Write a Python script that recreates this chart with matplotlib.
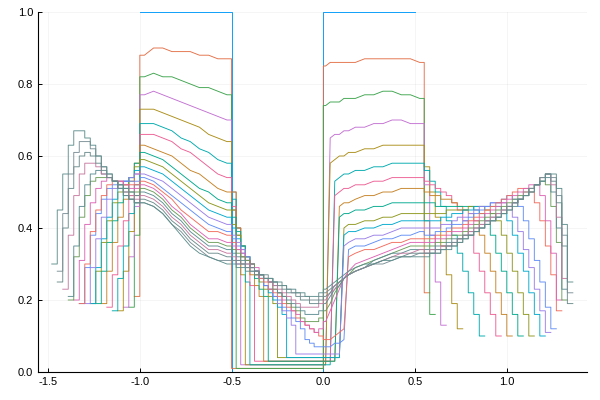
import numpy as np
import matplotlib.pyplot as plt

plt.rcParams['font.family'] = ['Liberation Sans', 'DejaVu Sans']
plt.rcParams['axes.unicode_minus'] = False

# Zellgrenzen des Gitters (fein an den Raendern, grob im Inneren)
edges = np.round(np.concatenate([
    np.arange(-1.48, -0.995, 0.03),
    np.arange(-0.95, -0.495, 0.05),
    np.arange(-0.475, 0.1501, 0.025),
    np.arange(0.20, 0.5501, 0.05),
    np.arange(0.58, 1.3601, 0.03),
]), 3)
n_left = 16
# grobe Zellen werden glatt gezeichnet, feine als Treppe
smooth = [False] * 16 + [True] * 10 + [False] * 20 + [True] * 14 + [False] * 27

# Anfangszustand
init_edges = [-1.0, -0.5, 0.0, 0.5]
init_vals = [1.0, 0.0, 1.0]

# Zellwerte (in 1/100) je Zeitschritt
left_tail = [
    [21],
    [18, 38],
    [18, 32, 46],
    [17, 28, 39, 49],
    [17, 26, 35, 44, 52],
    [18, 27, 35, 42, 49, 55],
    [19, 28, 36, 43, 48, 53, 58],
    [19, 28, 36, 42, 47, 51, 54, 58],
    [19, 28, 36, 42, 47, 50, 52, 54, 57],
    [19, 29, 37, 43, 48, 51, 53, 54, 56],
    [19, 29, 37, 43, 48, 51, 52, 53, 54, 55],
    [19, 29, 38, 44, 48, 51, 52, 53, 53, 53, 53],
    [19, 30, 39, 45, 49, 52, 53, 53, 52, 52, 52],
    [20, 31, 41, 47, 51, 53, 54, 53, 53, 52, 51, 51],
    [20, 32, 43, 49, 53, 54, 54, 54, 53, 52, 51, 50, 50],
    [21, 35, 46, 52, 55, 56, 55, 54, 53, 52, 51, 50, 49],
    [23, 38, 49, 55, 58, 58, 57, 55, 54, 53, 51, 50, 49, 48],
    [25, 40, 51, 57, 60, 61, 60, 58, 56, 54, 53, 51, 50, 48, 47],
    [28, 44, 55, 61, 64, 64, 62, 60, 57, 55, 53, 51, 49, 48, 47],
    [30, 45, 55, 63, 67, 67, 65, 63, 60, 57, 55, 53, 51, 49, 48, 47],
]

left_pulse = [
    [88, 90, 90, 89, 89, 89, 88, 88, 87, 87],
    [82, 83, 82, 82, 81, 80, 79, 79, 78, 77],
    [77, 78, 77, 76, 75, 74, 73, 72, 71, 70],
    [73, 73, 72, 71, 70, 69, 68, 66, 65, 64],
    [69, 69, 68, 67, 65, 64, 62, 61, 59, 58],
    [66, 66, 65, 64, 62, 61, 59, 57, 55, 54],
    [63, 62, 61, 60, 58, 56, 55, 53, 51, 50],
    [61, 60, 59, 57, 55, 53, 51, 50, 48, 47],
    [59, 58, 57, 55, 53, 51, 49, 47, 46, 45],
    [57, 56, 55, 53, 51, 49, 47, 45, 44, 43],
    [55, 54, 53, 51, 49, 47, 45, 43, 42, 41],
    [54, 53, 51, 49, 47, 45, 43, 41, 40, 39],
    [53, 52, 50, 48, 45, 43, 41, 39, 39, 38],
    [52, 51, 49, 46, 44, 41, 39, 37, 37, 36],
    [51, 50, 48, 45, 43, 40, 38, 36, 36, 35],
    [50, 49, 47, 44, 42, 39, 37, 35, 35, 34],
    [49, 48, 46, 43, 41, 38, 36, 34, 34, 33],
    [48, 47, 45, 42, 40, 37, 35, 33, 33, 32],
    [47, 46, 44, 41, 39, 36, 34, 32, 31, 31],
    [47, 46, 44, 41, 38, 35, 33, 32, 31, 30],
]

gap = [
    [1, 1, 1, 1, 1, 1, 1, 1, 1, 1, 1, 1, 1, 1, 1, 1, 1, 1, 1, 1, 85, 86, 86, 86, 86, 86],
    [45, 1, 1, 1, 1, 1, 1, 1, 1, 1, 1, 1, 1, 1, 1, 1, 1, 1, 1, 1, 74, 75, 75, 75, 76, 76],
    [50, 30, 2, 2, 2, 2, 2, 2, 2, 2, 2, 2, 2, 2, 2, 2, 2, 2, 2, 2, 2, 65, 66, 66, 67, 67],
    [50, 38, 27, 2, 2, 2, 2, 2, 2, 2, 2, 2, 2, 2, 2, 2, 2, 2, 2, 2, 2, 58, 59, 60, 60, 61],
    [48, 40, 32, 25, 2, 2, 2, 2, 2, 2, 2, 2, 2, 2, 2, 2, 2, 2, 2, 2, 2, 2, 53, 54, 55, 55],
    [46, 40, 34, 29, 24, 3, 3, 3, 3, 3, 3, 3, 3, 3, 3, 3, 3, 3, 3, 3, 3, 3, 49, 50, 51, 51],
    [45, 40, 35, 31, 27, 24, 21, 3, 3, 3, 3, 3, 3, 3, 3, 3, 3, 3, 3, 3, 3, 3, 3, 46, 47, 47],
    [43, 39, 35, 32, 29, 26, 23, 21, 3, 3, 3, 3, 3, 3, 3, 3, 3, 3, 3, 3, 3, 3, 3, 43, 44, 44],
    [41, 38, 35, 32, 30, 27, 25, 23, 21, 19, 4, 4, 4, 4, 4, 4, 4, 4, 4, 4, 4, 4, 4, 4, 40, 41],
    [40, 37, 35, 32, 30, 28, 26, 24, 22, 20, 18, 16, 4, 4, 4, 4, 4, 4, 4, 4, 4, 4, 4, 4, 38, 39],
    [38, 36, 34, 32, 30, 28, 26, 24, 23, 21, 19, 17, 15, 13, 5, 5, 5, 5, 5, 5, 5, 5, 5, 5, 35, 36],
    [37, 35, 33, 31, 29, 28, 26, 24, 23, 21, 20, 18, 17, 15, 14, 12, 9, 8, 7, 7, 7, 7, 8, 8, 9, 34],
    [36, 34, 32, 31, 29, 27, 26, 25, 23, 22, 21, 19, 18, 17, 15, 14, 13, 12, 11, 10, 9, 9, 10, 11, 12, 32],
    [35, 34, 33, 31, 30, 29, 27, 26, 25, 23, 22, 20, 19, 17, 16, 14, 13, 12, 11, 12, 14, 17, 20, 23, 26, 28],
    [34, 33, 32, 31, 30, 28, 27, 26, 25, 23, 22, 21, 19, 18, 17, 15, 14, 14, 14, 15, 17, 19, 22, 24, 26, 27],
    [33, 32, 31, 30, 29, 28, 27, 26, 25, 24, 22, 21, 20, 19, 18, 17, 16, 16, 16, 17, 19, 21, 23, 24, 26, 27],
    [32, 31, 30, 30, 29, 28, 27, 26, 25, 24, 23, 22, 21, 20, 19, 18, 18, 18, 18, 19, 20, 22, 23, 25, 26, 27],
    [31, 31, 30, 29, 29, 28, 27, 27, 26, 25, 24, 23, 22, 22, 21, 20, 20, 19, 19, 20, 21, 22, 24, 25, 26, 27],
    [31, 30, 30, 29, 28, 28, 27, 26, 26, 25, 24, 24, 23, 22, 22, 21, 21, 20, 20, 21, 22, 23, 24, 25, 26, 27],
    [30, 29, 29, 28, 28, 27, 27, 26, 26, 25, 25, 24, 23, 23, 22, 22, 21, 21, 21, 22, 23, 24, 25, 26, 27, 28],
]

right_pulse = [
    [86, 87, 87, 87, 87, 87, 87, 86],
    [76, 77, 77, 78, 78, 77, 77, 76],
    [68, 68, 69, 69, 70, 70, 69, 69],
    [61, 62, 62, 63, 63, 63, 63, 63],
    [56, 56, 57, 57, 58, 58, 58, 58],
    [52, 52, 53, 53, 54, 54, 54, 54],
    [48, 49, 49, 50, 50, 51, 51, 51],
    [45, 45, 46, 46, 47, 47, 47, 47],
    [41, 42, 42, 43, 43, 44, 44, 44],
    [39, 40, 40, 41, 41, 42, 42, 42],
    [37, 37, 38, 38, 39, 40, 40, 40],
    [35, 35, 36, 37, 37, 38, 38, 39],
    [33, 34, 34, 35, 36, 36, 37, 37],
    [30, 31, 32, 33, 34, 35, 36, 36],
    [29, 30, 31, 32, 33, 34, 35, 35],
    [28, 29, 31, 32, 33, 33, 34, 34],
    [28, 29, 30, 31, 32, 33, 33, 34],
    [28, 29, 30, 31, 32, 32, 33, 33],
    [28, 29, 30, 30, 31, 32, 32, 33],
    [29, 30, 30, 31, 31, 32, 32, 32],
]

right_tail = [
    [22],
    [42, 16],
    [52, 38, 25, 13],
    [57, 50, 43, 35, 27, 19, 12],
    [56, 53, 50, 46, 42, 38, 33, 28, 22, 16, 10],
    [53, 52, 51, 50, 49, 47, 45, 42, 38, 33, 28, 22, 16, 10],
    [50, 49, 49, 48, 48, 47, 46, 45, 44, 42, 38, 33, 28, 22, 16, 10],
    [47, 47, 46, 46, 46, 46, 46, 46, 46, 45, 44, 42, 38, 33, 28, 22, 16, 10],
    [44, 44, 44, 44, 45, 45, 45, 45, 46, 46, 46, 45, 44, 42, 38, 33, 28, 22, 16, 10],
    [42, 42, 42, 43, 43, 44, 44, 45, 45, 46, 46, 46, 46, 46, 44, 42, 38, 33, 28, 22, 16, 10],
    [40, 40, 40, 41, 41, 42, 43, 43, 44, 45, 46, 46, 47, 47, 47, 46, 43, 39, 34, 29, 23, 17, 11],
    [38, 38, 39, 39, 40, 41, 41, 42, 43, 44, 45, 46, 47, 47, 48, 49, 48, 46, 42, 37, 31, 25, 18, 12],
    [37, 37, 38, 38, 39, 40, 40, 41, 42, 43, 44, 45, 46, 47, 48, 49, 50, 51, 51, 50, 47, 42, 35, 27, 17],
    [36, 36, 37, 37, 38, 39, 39, 40, 41, 42, 43, 44, 45, 46, 47, 48, 49, 50, 51, 52, 52, 49, 42, 33, 20],
    [35, 35, 36, 36, 37, 38, 38, 39, 40, 41, 42, 43, 44, 45, 46, 47, 48, 49, 50, 51, 52, 53, 52, 46, 36, 20],
    [34, 34, 35, 35, 36, 37, 37, 38, 39, 40, 41, 42, 43, 44, 45, 46, 47, 48, 49, 50, 52, 53, 54, 50, 40, 23],
    [33, 34, 34, 35, 35, 36, 37, 38, 39, 40, 41, 42, 43, 44, 45, 46, 47, 48, 50, 51, 52, 54, 55, 52, 43, 26],
    [33, 33, 34, 34, 35, 36, 37, 38, 38, 39, 40, 41, 42, 43, 44, 46, 47, 48, 49, 51, 52, 54, 55, 53, 47, 35, 19],
    [33, 33, 33, 34, 35, 35, 36, 37, 38, 39, 40, 41, 42, 43, 44, 45, 47, 48, 49, 51, 52, 54, 55, 54, 49, 38, 22],
    [32, 33, 33, 34, 34, 35, 36, 37, 38, 39, 40, 41, 42, 43, 44, 45, 46, 48, 49, 50, 52, 53, 55, 55, 51, 41, 25],
]

colors = ['#009AFA', '#E36F47', '#3EA44E', '#C371D2', '#AC8E18', '#00AAAE',
          '#ED5E93', '#C68225', '#00A98D', '#8E971D', '#00A9CD', '#9B7FE8',
          '#618DF6', '#F16C5D', '#DD64B5', '#6B9D59', '#5E8E94', '#C77AA0',
          '#6C8C8C', '#7A8F95', '#5F8F8D']


def cell_path(s, vals):
    # Treppe fuer feine Zellen, Linie durch die Zellmitten fuer grobe
    xs, ys = [], []
    for j, v in enumerate(vals):
        i = s + j
        a, b = edges[i], edges[i + 1]
        if not smooth[i]:
            xs += [a, b]
            ys += [v, v]
        else:
            if j == 0 or not smooth[i - 1]:
                xs.append(a)
                ys.append(v)
            xs.append((a + b) / 2)
            ys.append(v)
            if j == len(vals) - 1 or not smooth[i + 1]:
                xs.append(b)
                ys.append(v)
    return xs, np.array(ys) / 100


fig = plt.figure(figsize=(6, 4), dpi=100)
ax = fig.add_axes([0.0633, 0.07, 0.915, 0.9])

ax.plot(init_edges, init_vals + [init_vals[-1]], drawstyle='steps-post',
        color=colors[0], lw=0.65)

for k in range(len(left_tail)):
    vals = left_tail[k] + left_pulse[k] + gap[k] + right_pulse[k] + right_tail[k]
    x, y = cell_path(n_left - len(left_tail[k]), vals)
    ax.plot(x, y, color=colors[k + 1], lw=0.65)

ax.set_xlim(-1.555, 1.437)
ax.set_ylim(0, 1)
ax.set_xticks([-1.5, -1.0, -0.5, 0.0, 0.5, 1.0])
ax.set_yticks([0.0, 0.2, 0.4, 0.6, 0.8, 1.0])
ax.set_xticklabels(['-1.5', '-1.0', '-0.5', '0.0', '0.5', '1.0'])
ax.set_yticklabels(['0.0', '0.2', '0.4', '0.6', '0.8', '1.0'])
ax.tick_params(direction='in', length=3, width=0.7, labelsize=8)
for side in ['top', 'right']:
    ax.spines[side].set_visible(False)
for side in ['left', 'bottom']:
    ax.spines[side].set_linewidth(0.8)
ax.grid(True, color='k', alpha=0.06, lw=0.5)

fig.savefig('out.png', dpi=100)
